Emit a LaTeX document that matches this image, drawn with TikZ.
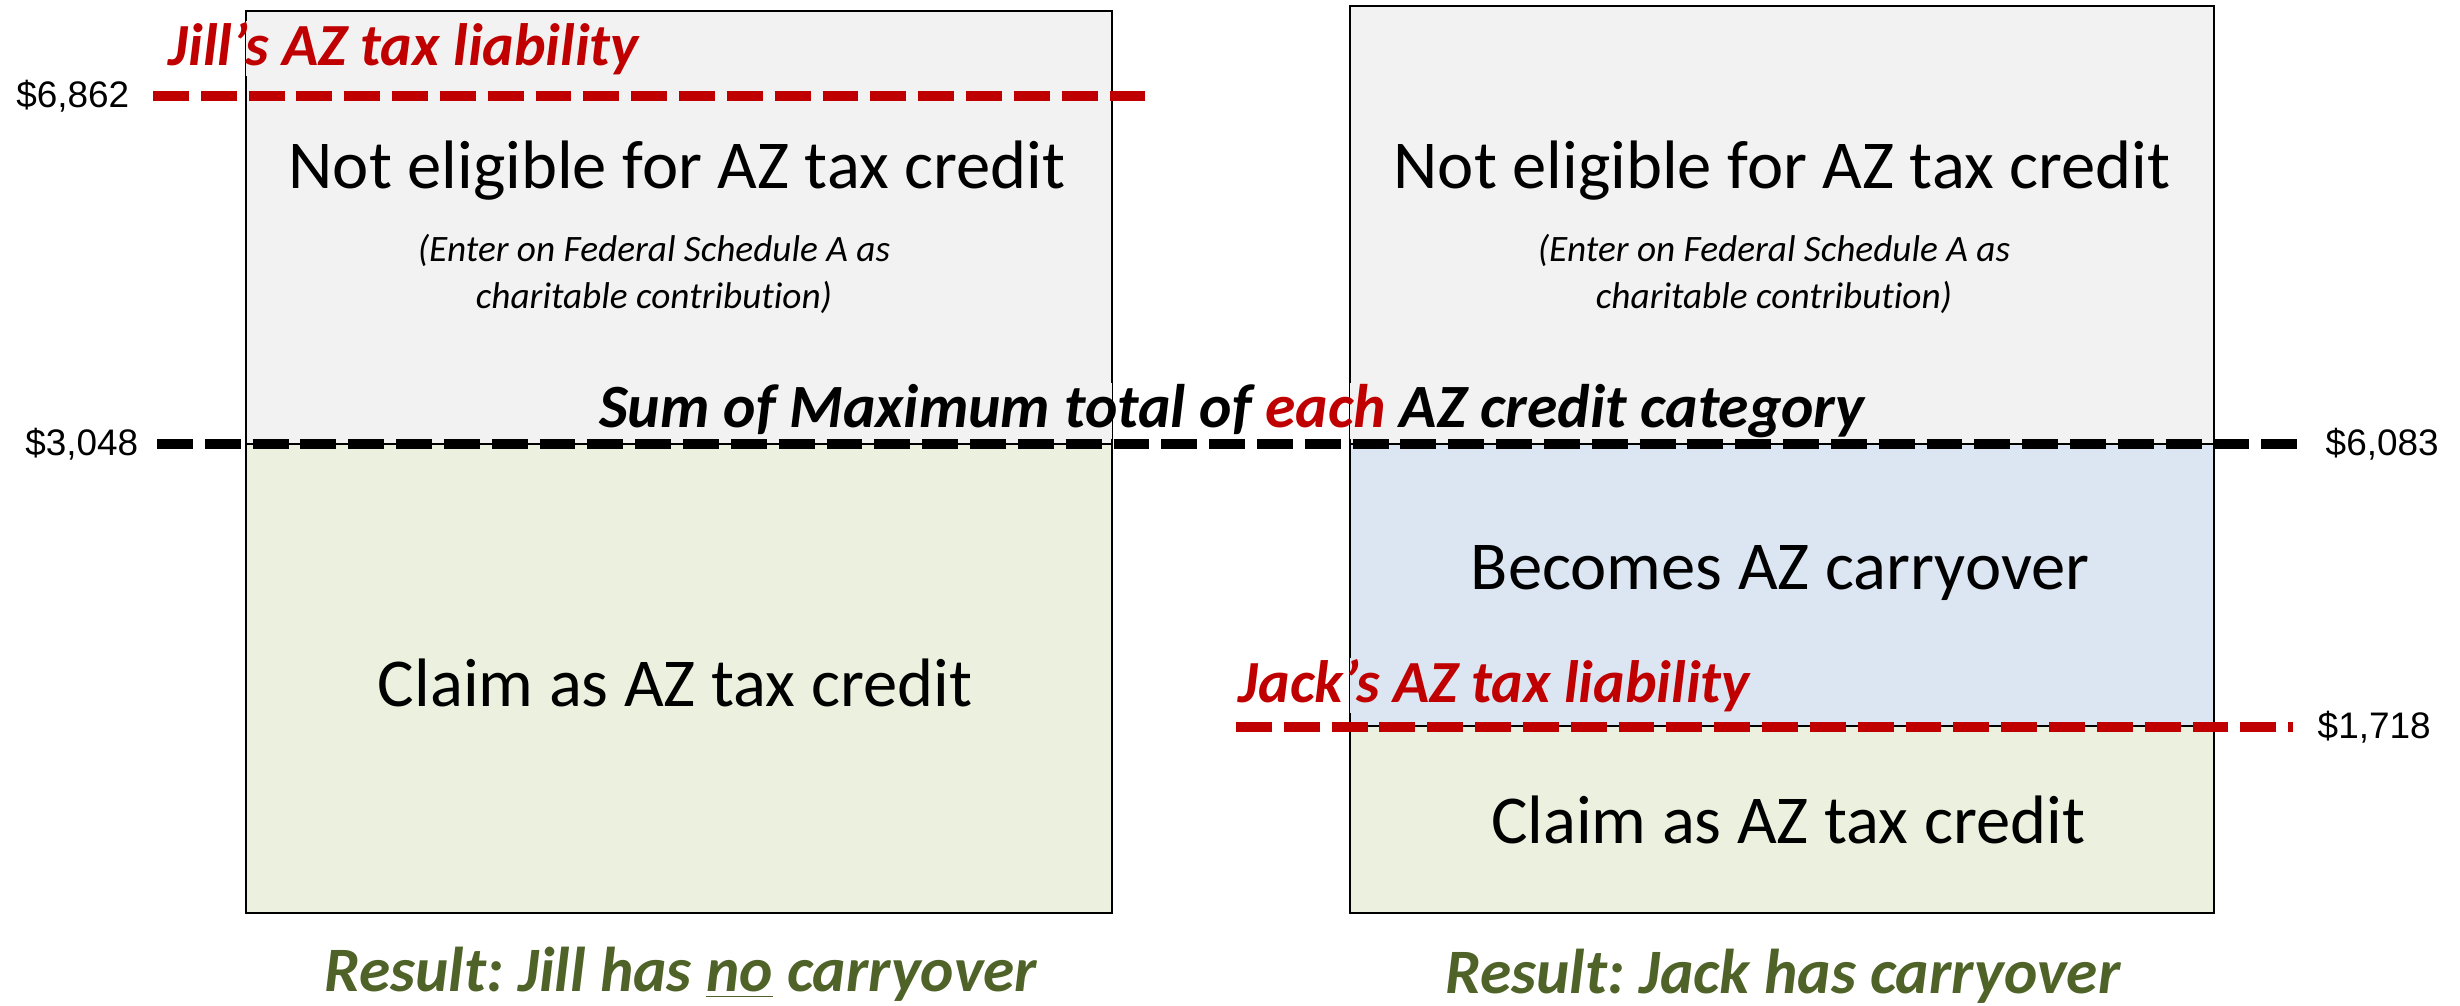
\documentclass[tikz,border=0pt]{standalone}
\usepackage{fontspec}
\setmainfont{Carlito}[Ligatures=NoCommon]
\newfontfamily\valfont{Liberation Sans}
\usetikzlibrary{backgrounds}
\frenchspacing
\definecolor{boxgray}{HTML}{F2F2F2}
\definecolor{boxgreen}{HTML}{EBF1DE}
\definecolor{boxblue}{HTML}{DCE6F2}
\definecolor{taxred}{HTML}{C00000}
\definecolor{resgreen}{HTML}{4F6228}
\tikzset{
  section/.style={draw=black, line width=0.6pt},
  level/.style={line width=3pt, dash pattern=on 10.2pt off 3.4pt},
  value/.style={font=\valfont\fontsize{10.5}{12}\selectfont, inner sep=0pt},
  bigtext/.style={font=\fontsize{19.5}{23}\selectfont, inner sep=0pt},
  note/.style={font=\itshape\fontsize{10.6}{13.6}\selectfont, align=center, inner sep=0pt},
  tag/.style={font=\bfseries\itshape\fontsize{17}{20}\selectfont, text=taxred, inner sep=0pt},
  result/.style={font=\bfseries\itshape\fontsize{18}{21}\selectfont, text=resgreen, inner sep=0pt},
}
% the coloured parts of both bars
\newcommand\barfills{%
  \fill[boxgray]  (246,11)   rectangle (1112,444);
  \fill[boxgreen] (246,444)  rectangle (1112,913);
  \fill[boxgray]  (1350,6)   rectangle (2214,444);
  \fill[boxblue]  (1350,444) rectangle (2214,726);
  \fill[boxgreen] (1350,726) rectangle (2214,913);
}

\begin{document}
\begin{tikzpicture}[x=0.01cm, y=-0.01cm]
  \useasboundingbox (0,0) rectangle (2460,1006);

  %%%%% LABELS %%%%%
  \node[tag, anchor=base west] (jilltag) at (168,65) {Jill’s AZ tax liability};
  \node[tag, anchor=base west] (jacktag) at (1238,702) {Jack’s AZ tax liability};
  \node[tag, text=black, font=\bfseries\itshape\fontsize{17.5}{21}\selectfont, anchor=base] (sumtag) at (1232,427)
    {Sum of Maximum total of {\color{taxred}each} AZ credit category};

  %%%%% LEVELS %%%%%
  \coordinate (jillA) at (153,96);  \coordinate (jillB) at (1145,96);
  \coordinate (sumA)  at (157,444); \coordinate (sumB)  at (2303,444);
  \coordinate (jackA) at (1236,727);\coordinate (jackB) at (2293,727);
  \draw[level, taxred] (jillA) -- (jillB);
  \draw[level, black]  (sumA) -- (sumB);
  \draw[level, taxred] (jackA) -- (jackB);

  \node[value, anchor=east] (v6862) at (130,96) {\$6,862};
  \node[value, anchor=east] (v3048) at (139,444) {\$3,048};
  \node[value, anchor=west] (v6083) at (2325,444) {\$6,083};
  \node[value, anchor=west] (v1718) at (2317,727) {\$1,718};

  %%%%% JILL %%%%%
  \node[bigtext, anchor=base] (jillout) at (677,188) {Not eligible for AZ tax credit};
  \node[note] (jillnote) at (654,274) {(Enter on Federal Schedule A as\\charitable contribution)};
  \node[bigtext, anchor=base] (jillclaim) at (675,706) {Claim as AZ tax credit};
  \node[result, anchor=base] (jillres) at (681,991) {Result: Jill has \underline{no} carryover};

  %%%%% JACK %%%%%
  \node[bigtext, anchor=base] (jackout) at (1782,188) {Not eligible for AZ tax credit};
  \node[note] (jacknote) at (1774,274) {(Enter on Federal Schedule A as\\charitable contribution)};
  \node[bigtext, anchor=base] (jackcarry) at (1780,589) {Becomes AZ carryover};
  \node[bigtext, anchor=base] (jackclaim) at (1788,843) {Claim as AZ tax credit};
  \node[result, anchor=base] (jackres) at (1783,993) {Result: Jack has carryover};

  %%%%% BARS %%%%%
  \begin{scope}[on background layer]
    \barfills
    \draw[section] (246,11)   rectangle (1112,444);
    \draw[section] (246,444)  rectangle (1112,913);
    \draw[section] (1350,6)   rectangle (2214,444);
    \draw[section] (1350,444) rectangle (2214,726);
    \draw[section] (1350,726) rectangle (2214,913);
    % edges are hidden behind the labels
    \foreach \lbl in {jilltag,jacktag,sumtag} {
      \begin{scope}
        \clip (\lbl.south west) rectangle (\lbl.north east);
        \barfills
      \end{scope}
    }
  \end{scope}
\end{tikzpicture}
\end{document}
